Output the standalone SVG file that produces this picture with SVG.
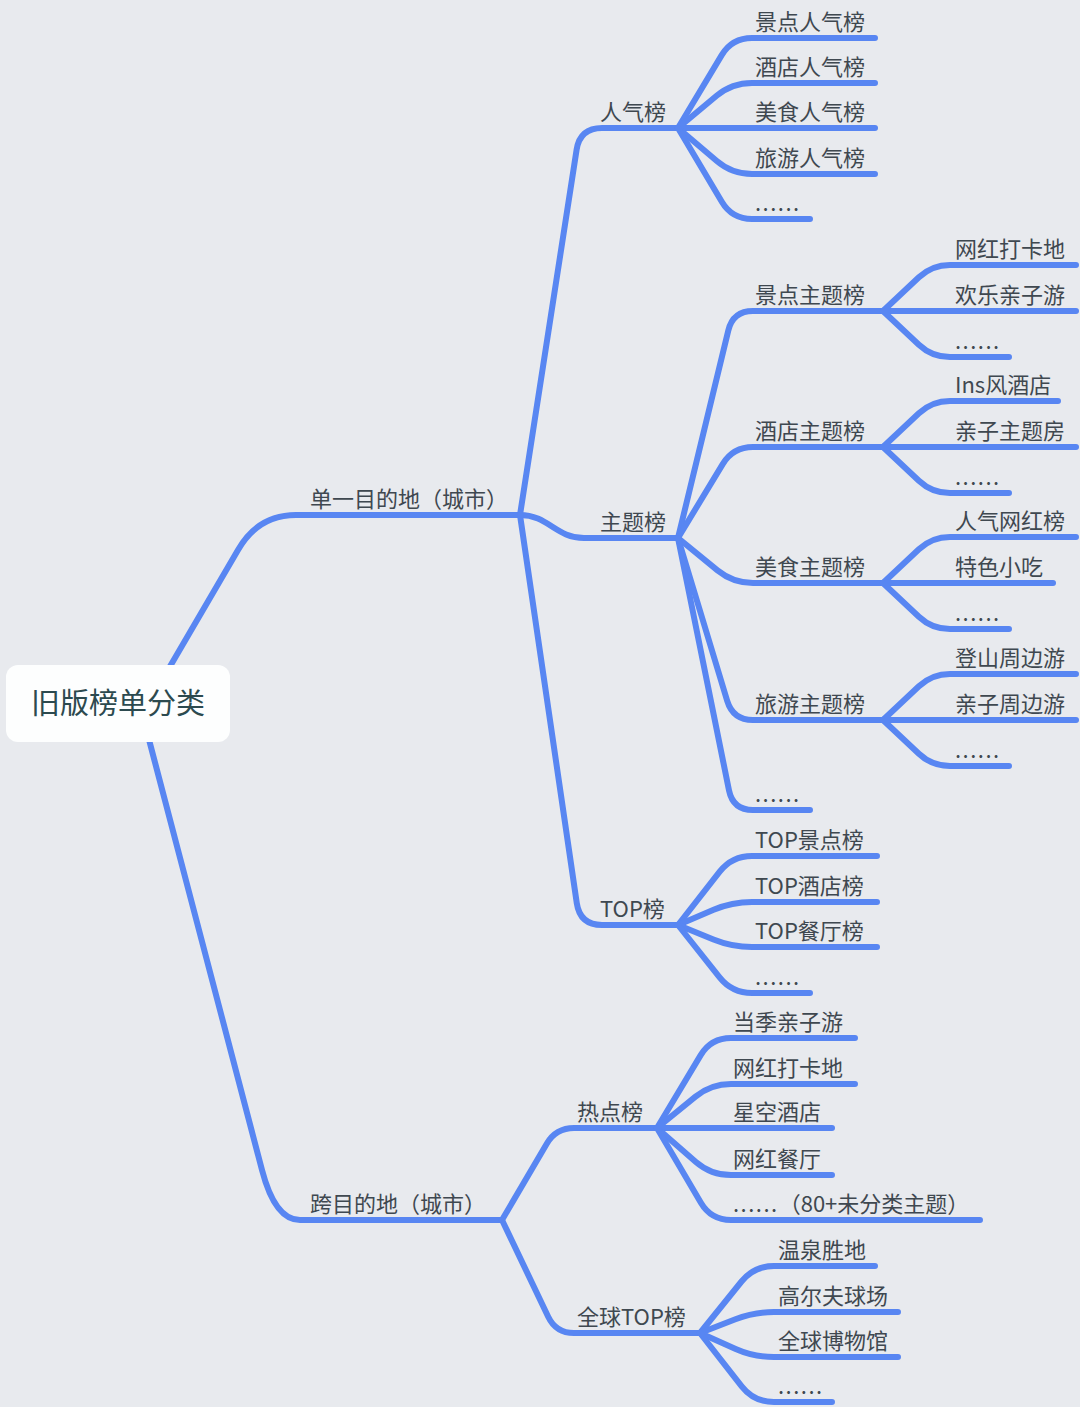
<svg xmlns="http://www.w3.org/2000/svg" width="1080" height="1407" viewBox="0 0 1080 1407">
<style>
.c{fill:none;stroke:#5886f2;stroke-width:6;stroke-linecap:round;stroke-linejoin:round}
text{font-family:"Noto Sans CJK SC","Noto Sans",sans-serif;font-size:22px;fill:#3f4850}
.root{font-size:29px;fill:#2c4a4f}
.dots{letter-spacing:1.5px}
</style>
<rect x="0" y="0" width="1080" height="1407" fill="#e8eaee"/>
<g id="connectors">
<path class="c" d="M165,675 L238,550 Q258,515 296,515 H520"/>
<path class="c" d="M147,732 L262,1170 Q275,1220 300,1220 H502"/>
<path class="c" d="M520,515 L576.6,149.7 Q580,128 602,128 H678"/>
<path class="c" d="M520,515 C548,515 556,538 584,538 H678"/>
<path class="c" d="M520,515 L576.8,903.3 Q580,925 602,925 H678"/>
<path class="c" d="M502,1220 L546.9,1143.5 Q556,1128 574,1128 H657"/>
<path class="c" d="M502,1220 L548.2,1316.7 Q556,1333 574,1333 H700"/>
<path class="c" d="M678,128 L721.7,55.1 Q732,38 752,38 H875"/>
<path class="c" d="M678,128 L716.6,95.8 Q732,83 752,83 H875"/>
<path class="c" d="M678,128 H875"/>
<path class="c" d="M678,128 L716.8,161 Q732,174 752,174 H875"/>
<path class="c" d="M678,128 L721.8,201.8 Q732,219 752,219 H810"/>
<path class="c" d="M678,538 L728.3,330.5 Q733,311 753,311 H883"/>
<path class="c" d="M678,538 L722.7,464.1 Q733,447 753,447 H883"/>
<path class="c" d="M678,538 L717.5,570.4 Q733,583 753,583 H883"/>
<path class="c" d="M678,538 L727.2,700.9 Q733,720 753,720 H883"/>
<path class="c" d="M678,538 L729,790.4 Q733,810 753,810 H810"/>
<path class="c" d="M678,925 L719.7,871.7 Q732,856 752,856 H877"/>
<path class="c" d="M678,925 L713.6,909.8 Q732,902 752,902 H877"/>
<path class="c" d="M678,925 L713.5,939.5 Q732,947 752,947 H877"/>
<path class="c" d="M678,925 L719.6,977.4 Q732,993 752,993 H810"/>
<path class="c" d="M883,311 L918.9,277.3 Q932,265 950,265 H1076"/>
<path class="c" d="M883,311 H1076"/>
<path class="c" d="M883,311 L918.9,344.7 Q932,357 950,357 H1009"/>
<path class="c" d="M883,447 L918.9,413.3 Q932,401 950,401 H1058"/>
<path class="c" d="M883,447 H1076"/>
<path class="c" d="M883,447 L918.9,480.7 Q932,493 950,493 H1009"/>
<path class="c" d="M883,583 L918.9,549.3 Q932,537 950,537 H1076"/>
<path class="c" d="M883,583 H1053"/>
<path class="c" d="M883,583 L918.9,616.7 Q932,629 950,629 H1009"/>
<path class="c" d="M883,720 L918.9,686.3 Q932,674 950,674 H1076"/>
<path class="c" d="M883,720 H1076"/>
<path class="c" d="M883,720 L918.9,753.7 Q932,766 950,766 H1009"/>
<path class="c" d="M657,1128 L700.7,1055.1 Q711,1038 731,1038 H855"/>
<path class="c" d="M657,1128 L695.5,1096.6 Q711,1084 731,1084 H855"/>
<path class="c" d="M657,1128 H832"/>
<path class="c" d="M657,1128 L695.9,1161.9 Q711,1175 731,1175 H832"/>
<path class="c" d="M657,1128 L700.9,1202.8 Q711,1220 731,1220 H980"/>
<path class="c" d="M700,1333 L741.5,1281.5 Q754,1266 774,1266 H875"/>
<path class="c" d="M700,1333 L735.4,1319.2 Q754,1312 774,1312 H898"/>
<path class="c" d="M700,1333 L735.7,1348.9 Q754,1357 774,1357 H898"/>
<path class="c" d="M700,1333 L741.7,1386.3 Q754,1402 774,1402 H832"/>
</g>
<g id="root"><rect x="6" y="665" width="224" height="77" rx="12" fill="#fdfefe"/><text class="root" x="118" y="714" text-anchor="middle">旧版榜单分类</text></g>
<g id="n-single"><text x="310" y="507">单一目的地（城市）</text></g>
<g id="n-cross"><text x="310" y="1212">跨目的地（城市）</text></g>
<g id="n-popular"><text x="600" y="120">人气榜</text></g>
<g id="n-theme"><text x="600" y="530">主题榜</text></g>
<g id="n-top"><text x="600" y="917">TOP榜</text></g>
<g id="n-hot"><text x="577" y="1120">热点榜</text></g>
<g id="n-global"><text x="577" y="1325">全球TOP榜</text></g>
<g id="n-p1"><text x="755" y="30">景点人气榜</text></g>
<g id="n-p2"><text x="755" y="75">酒店人气榜</text></g>
<g id="n-p3"><text x="755" y="120">美食人气榜</text></g>
<g id="n-p4"><text x="755" y="166">旅游人气榜</text></g>
<g id="n-p5"><text class="dots" x="755" y="211">......</text></g>
<g id="n-t1"><text x="755" y="303">景点主题榜</text></g>
<g id="n-t2"><text x="755" y="439">酒店主题榜</text></g>
<g id="n-t3"><text x="755" y="575">美食主题榜</text></g>
<g id="n-t4"><text x="755" y="712">旅游主题榜</text></g>
<g id="n-t5"><text class="dots" x="755" y="802">......</text></g>
<g id="n-o1"><text x="755" y="848">TOP景点榜</text></g>
<g id="n-o2"><text x="755" y="894">TOP酒店榜</text></g>
<g id="n-o3"><text x="755" y="939">TOP餐厅榜</text></g>
<g id="n-o4"><text class="dots" x="755" y="985">......</text></g>
<g id="n-t1a"><text x="955" y="257">网红打卡地</text></g>
<g id="n-t1b"><text x="955" y="303">欢乐亲子游</text></g>
<g id="n-t1c"><text class="dots" x="955" y="349">......</text></g>
<g id="n-t2a"><text x="955" y="393">Ins风酒店</text></g>
<g id="n-t2b"><text x="955" y="439">亲子主题房</text></g>
<g id="n-t2c"><text class="dots" x="955" y="485">......</text></g>
<g id="n-t3a"><text x="955" y="529">人气网红榜</text></g>
<g id="n-t3b"><text x="955" y="575">特色小吃</text></g>
<g id="n-t3c"><text class="dots" x="955" y="621">......</text></g>
<g id="n-t4a"><text x="955" y="666">登山周边游</text></g>
<g id="n-t4b"><text x="955" y="712">亲子周边游</text></g>
<g id="n-t4c"><text class="dots" x="955" y="758">......</text></g>
<g id="n-h1"><text x="733" y="1030">当季亲子游</text></g>
<g id="n-h2"><text x="733" y="1076">网红打卡地</text></g>
<g id="n-h3"><text x="733" y="1120">星空酒店</text></g>
<g id="n-h4"><text x="733" y="1167">网红餐厅</text></g>
<g id="n-h5"><text x="733" y="1212"><tspan class="dots">......</tspan>（80+未分类主题）</text></g>
<g id="n-g1"><text x="778" y="1258">温泉胜地</text></g>
<g id="n-g2"><text x="778" y="1304">高尔夫球场</text></g>
<g id="n-g3"><text x="778" y="1349">全球博物馆</text></g>
<g id="n-g4"><text class="dots" x="778" y="1394">......</text></g>
</svg>
